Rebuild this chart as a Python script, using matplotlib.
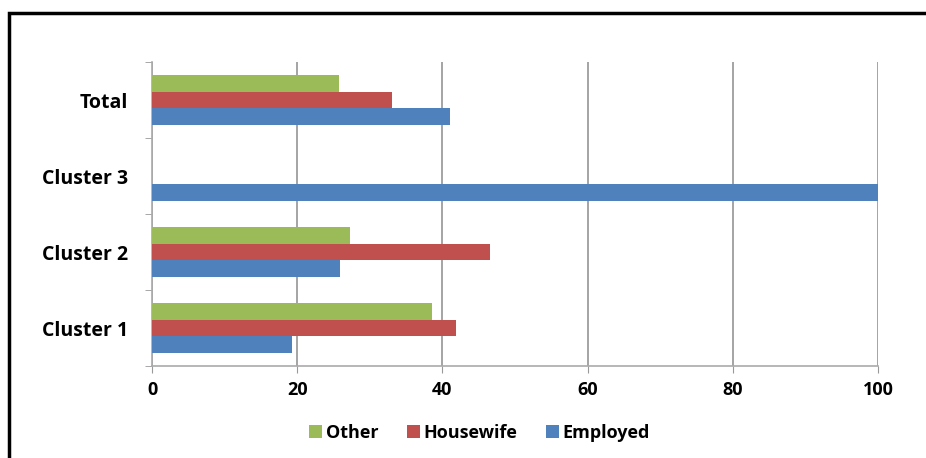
import numpy as np
import matplotlib
matplotlib.use("Agg")
import matplotlib.pyplot as plt
from matplotlib.patches import Rectangle

categories = ["Cluster 1", "Cluster 2", "Cluster 3", "Total"]
employed = [19.3, 25.9, 100, 41.1]
housewife = [41.9, 46.6, 0, 33.1]
other = [38.5, 27.3, 0, 25.8]
xticks = [0, 20, 40, 60, 80, 100]

plt.rcParams['font.family'] = ['Open Sans', 'DejaVu Sans']
plt.rcParams['font.weight'] = 'bold'

fig = plt.figure(figsize=(9.26, 4.58), dpi=100)
ax = fig.add_axes([152 / 926, 1 - 366 / 458, (878 - 152) / 926, (366 - 62) / 458])

y = np.arange(len(categories))
h = 0.215
ax.barh(y - h, employed, h, color='#4F81BD', label='Employed', zorder=3)
ax.barh(y, housewife, h, color='#C0504D', label='Housewife', zorder=3)
ax.barh(y + h, other, h, color='#9BBB59', label='Other', zorder=3)

ax.set_xlim(0, 100)
ax.set_ylim(-0.5, 3.5)
ax.set_xticks(xticks)
ax.set_xticklabels([str(v) for v in xticks], fontsize=13, fontweight='bold')
ax.set_yticks(y)
ax.set_yticklabels(categories, fontsize=14, fontweight='bold')
ax.set_yticks(np.arange(-0.5, 4, 1), minor=True)
ax.tick_params(axis='y', which='major', length=0, pad=17)
ax.tick_params(axis='y', which='minor', length=5, color='#999999')
ax.tick_params(axis='x', length=5, color='#999999', pad=6)
ax.grid(axis='x', color='#8c8c8c', linewidth=1.1, zorder=0)
for s in ['top', 'right']:
    ax.spines[s].set_visible(False)
for s in ['left', 'bottom']:
    ax.spines[s].set_color('#aaaaaa')
    ax.spines[s].set_linewidth(1.2)

handles, labels = ax.get_legend_handles_labels()
order = [2, 1, 0]
fig.legend([handles[i] for i in order], [labels[i] for i in order],
           loc='center', bbox_to_anchor=(0.518, 0.055), ncol=3, frameon=False,
           fontsize=13, handlelength=0.7, handleheight=0.7, handletextpad=0.2,
           columnspacing=1.6)

fig.patches.append(Rectangle((8.5 / 926, -0.1), 1.2, 1.1 - 13.5 / 458,
                             transform=fig.transFigure, fill=False,
                             edgecolor='black', linewidth=2.5))

fig.savefig("out.png", dpi=100)
